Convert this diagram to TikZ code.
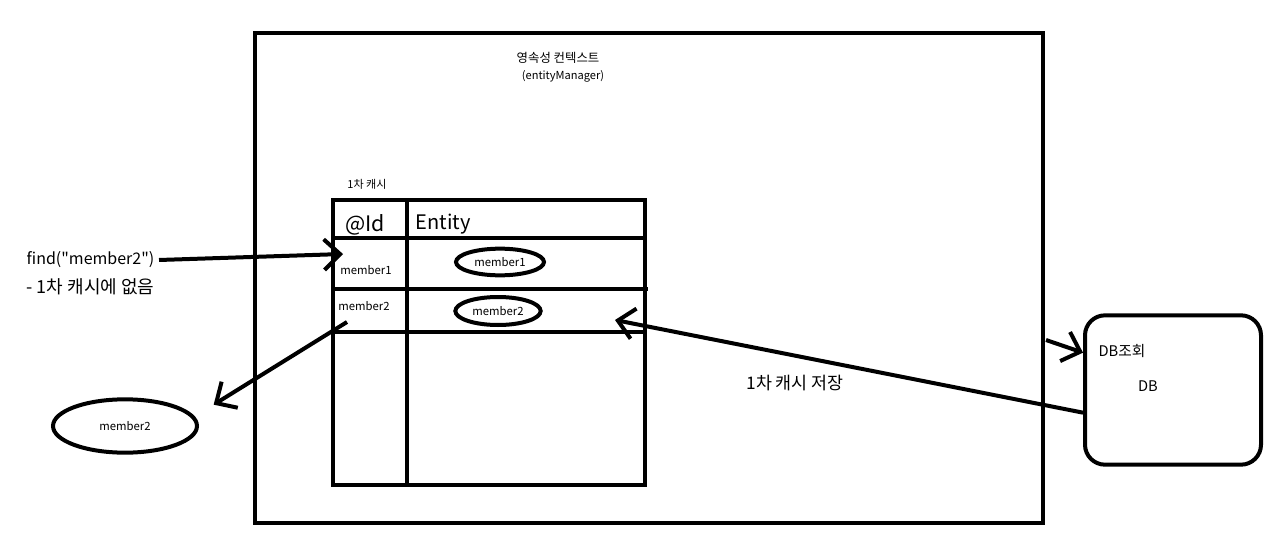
\documentclass[tikz,border=0pt]{standalone}
\usepackage{fontspec}
\setmainfont{Noto Sans CJK KR}[Ligatures=TeXOff]
\usetikzlibrary{arrows.meta, positioning, shapes.geometric}

\begin{document}
\begin{tikzpicture}[x=0.75pt, y=-0.75pt,
    pen/.style={line width=3pt},
    hand/.style={line width=3pt, -{Straight Barb[length=12pt, width=23pt]}},
    oval/.style={ellipse, draw, line width=3pt, inner sep=0pt, font=\fontsize{8.5}{10}\selectfont},
    tiny/.style={font=\fontsize{8.5}{10}\selectfont}]
    \useasboundingbox (0,0) rectangle (1274,549);

    % Persistence context
    \draw[line width=3.5pt] (255,33) rectangle (1043,523);
    \node[font=\fontsize{9.3}{11}\selectfont] (ctx) at (558,58) {영속성 컨텍스트};
    \node[font=\fontsize{8.3}{10}\selectfont] (em) at (563,76) {(entityManager)};

    % First-level cache table
    \node[font=\fontsize{8.3}{10}\selectfont] (cache) at (367,184) {1차 캐시};
    \draw[pen] (333,200) rectangle (645,485);
    \draw[pen] (407,200) -- (407,485);
    \foreach \y/\xe in {238/645, 289/648, 332/645}
        \draw[pen] (333,\y) -- (\xe,\y);
    \node[font=\fontsize{16}{18}\selectfont] (idhead) at (365,225) {@Id};
    \node[font=\fontsize{15}{18}\selectfont] (enthead) at (443,224) {Entity};

    % Rows
    \node[tiny] (id1) at (366,270) {member1};
    \node[tiny] (id2) at (364,306) {member2};
    \node[oval, minimum width=66pt, minimum height=20pt] (m1) at (500,262) {member1};
    \node[oval, minimum width=64pt, minimum height=21pt] (m2) at (498,311) {member2};

    % Lookup
    \node[font=\fontsize{12}{14}\selectfont, anchor=west] (find) at (22,260) {find("member2")};
    \node[font=\fontsize{13.5}{15}\selectfont, anchor=west] (miss) at (22,287) {- 1차 캐시에 없음};
    \coordinate (hit1) at (343,254);
    \draw[hand] (find.east) -- (hit1);

    % Returned entity
    \node[oval, minimum width=108pt, minimum height=40pt] (out2) at (125,426) {member2};
    \coordinate (row2) at (347,322);
    \draw[hand] (row2) -- ([xshift=11pt, yshift=16pt]out2.east);

    % Database
    \node[draw, line width=3pt, rounded corners=15pt,
          minimum width=132pt, minimum height=112pt] (db) at (1173,390) {};
    \node[font=\fontsize{11}{13}\selectfont] (dbq) at (1122,351) {DB조회};
    \node[font=\fontsize{11}{13}\selectfont] (dbname) at (1148,386) {DB};
    \coordinate (ctxout) at (1046,340);
    \draw[hand] (ctxout) -- ([yshift=28pt]db.west);
    \coordinate (save) at (615,320);
    \draw[hand] ([yshift=-17pt]db.west) -- (save);
    \node[font=\fontsize{13}{15}\selectfont] (savelab) at (795,383) {1차 캐시 저장};
\end{tikzpicture}
\end{document}
